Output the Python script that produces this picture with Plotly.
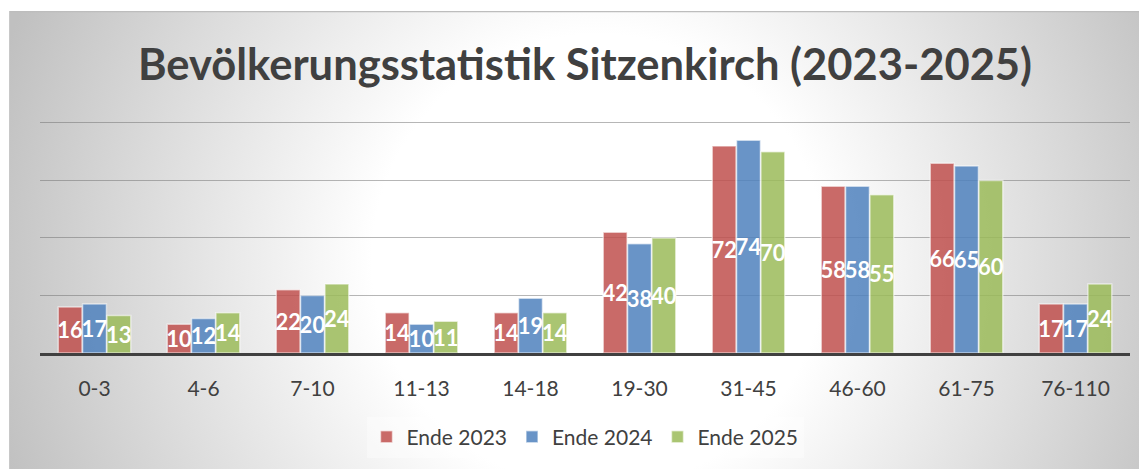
import base64
import plotly.graph_objects as go

categories = ["0-3", "4-6", "7-10", "11-13", "14-18", "19-30", "31-45", "46-60", "61-75", "76-110"]
ende_2023 = [16, 10, 22, 14, 14, 42, 72, 58, 66, 17]
ende_2024 = [17, 12, 20, 10, 19, 38, 74, 58, 65, 17]
ende_2025 = [13, 14, 24, 11, 14, 40, 70, 55, 60, 24]
series_names = ["Ende 2023", "Ende 2024", "Ende 2025"]
title_text = "Bevölkerungsstatistik Sitzenkirch (2023-2025)"

# page is rendered with an 8px body margin; figure sized to fill the rest
W, H = 1139, 461
ML, MR, MT, MB = 32, 17, 112, 116
PW, PH = W - ML - MR, H - MT - MB

# radial gradient background (chart area) as an SVG image
bx, by = 1, 3
bw, bh = W - bx, H - by
svg = f'''<svg xmlns="http://www.w3.org/2000/svg" width="{bw}" height="{bh}" viewBox="0 0 {bw} {bh}">
<defs><radialGradient id="g" gradientUnits="userSpaceOnUse" cx="590" cy="250" r="630">
<stop offset="0" stop-color="#ffffff"/><stop offset="0.36" stop-color="#ffffff"/>
<stop offset="0.75" stop-color="#d9d9d9"/><stop offset="1" stop-color="#c0c0c0"/></radialGradient></defs>
<rect x="0" y="0" width="{bw}" height="{bh}" fill="url(#g)"/>
<line x1="0" y1="0.5" x2="{bw}" y2="0.5" stroke="#bdbdbd" stroke-width="1.5"/>
<line x1="0.5" y1="0" x2="0.5" y2="{bh}" stroke="#c8c8c8" stroke-width="1"/>
</svg>'''
src = "data:image/svg+xml;base64," + base64.b64encode(svg.encode()).decode()

colors = ["rgba(192,80,77,0.85)", "rgba(79,129,189,0.85)", "rgba(155,187,89,0.85)"]
font_fam = "Lato, 'Open Sans', sans-serif"

fig = go.Figure()
for name, vals, col in zip(series_names, [ende_2023, ende_2024, ende_2025], colors):
    fig.add_trace(go.Bar(
        x=categories, y=vals, name=name,
        marker=dict(color=col, line=dict(color="rgba(255,255,255,0.55)", width=1.5)),
        text=vals, textposition="inside", insidetextanchor="middle",
        constraintext="none", textangle=0,
        textfont=dict(family=font_fam, size=22, color="white", weight="bold"),
        cliponaxis=False,
    ))

fig.update_layout(
    width=W, height=H,
    margin=dict(l=ML, r=MR, t=MT, b=MB, autoexpand=False),
    paper_bgcolor="white", plot_bgcolor="rgba(0,0,0,0)",
    barmode="group", bargap=0.33, bargroupgap=0.02,
    title=dict(text=title_text, x=(ML + PW / 2) / W, xanchor="center",
               y=1 - 57 / H, yanchor="middle", yref="container",
               font=dict(family=font_fam, size=43.5, color="#404040", weight="bold")),
    font=dict(family=font_fam, color="#404040"),
    showlegend=True,
    legend=dict(orientation="h", x=0.5, xanchor="center", y=-(429 - (H - MB)) / PH,
                yanchor="middle", yref="paper",
                bgcolor="rgba(255,255,255,0.35)",
                font=dict(family=font_fam, size=21, color="#404040")),
    images=[dict(source=src, xref="paper", yref="paper",
                 x=(bx - ML) / PW, y=(H - MB - by) / PH,
                 sizex=bw / PW, sizey=bh / PH,
                 xanchor="left", yanchor="top", sizing="stretch", layer="below")],
)
fig.update_xaxes(showline=True, linecolor="#404040", linewidth=3, ticks="",
                 tickfont=dict(family=font_fam, size=21, color="#404040"),
                 ticklabelstandoff=15, showgrid=False)
fig.update_yaxes(range=[0, 81], tick0=0, dtick=20, showticklabels=False,
                 showgrid=True, gridcolor="rgba(110,110,110,0.5)", gridwidth=1,
                 zeroline=False)

fig.write_html("out.html")
